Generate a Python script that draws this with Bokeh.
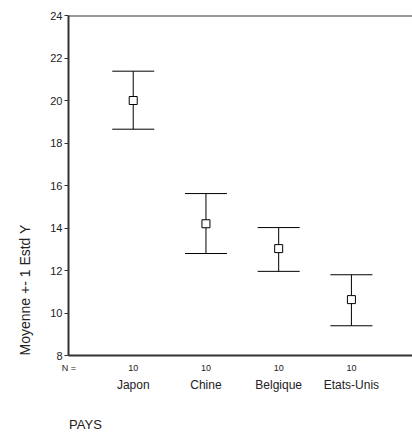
import math
from bokeh.plotting import figure
from bokeh.models import (Range1d, FixedTicker, Span, Whisker, ColumnDataSource, TeeHead,
                          LinearAxis, Title)
from bokeh.embed import file_html
from bokeh.resources import INLINE

categories = ["Japon", "Chine", "Belgique", "Etats-Unis"]
means = [20.0, 14.2, 13.03, 10.63]
upper = [21.38, 15.62, 14.02, 11.8]
lower = [18.65, 12.8, 11.96, 9.4]
counts = [10, 10, 10, 10]
y_ticks = [8, 10, 12, 14, 16, 18, 20, 22, 24]

xs = [i + 1 for i in range(len(categories))]
src = ColumnDataSource(dict(x=xs, m=means, up=upper, lo=lower))

FONT = "Liberation Sans"
DARK = "#333333"
TXT = "#222222"
X0, X1 = 0.11, 4.84
FRAME_W = 412 - 67

p = figure(width=412, height=434, output_backend="svg", toolbar_location=None,
           x_range=Range1d(X0, X1), y_range=Range1d(8, 24),
           x_axis_location=None,
           min_border_left=67, min_border_right=0, min_border_top=15, min_border_bottom=0)
p.grid.visible = False
p.outline_line_color = None
p.background_fill_color = "white"
p.border_fill_color = "white"

ya = p.yaxis[0]
ya.ticker = FixedTicker(ticks=y_ticks)
ya.axis_line_width = 2
ya.axis_line_color = DARK
ya.major_tick_line_color = DARK
ya.major_tick_out = 4
ya.major_tick_in = 0
ya.minor_tick_line_color = None
ya.major_label_text_font = FONT
ya.major_label_text_font_size = "11px"
ya.major_label_text_color = TXT
ya.major_label_standoff = 2

# N row axis (also draws the bottom axis line)
n_ticks = [X0 + 0.005] + xs
n_over = {n_ticks[0]: "N ="}
for xi, n in zip(xs, counts):
    n_over[xi] = str(n)
ax_n = LinearAxis(ticker=FixedTicker(ticks=n_ticks), major_label_overrides=n_over,
                  axis_line_width=2, axis_line_color=DARK,
                  major_tick_line_color=None, minor_tick_line_color=None,
                  major_tick_out=0, major_tick_in=0,
                  major_label_text_font=FONT, major_label_text_font_size="9px",
                  major_label_text_color=TXT, major_label_standoff=7)
p.add_layout(ax_n, "below")

# category names axis
ax_c = LinearAxis(ticker=FixedTicker(ticks=xs),
                  major_label_overrides={xi: c for xi, c in zip(xs, categories)},
                  axis_line_color=None, major_tick_line_color=None, minor_tick_line_color=None,
                  major_tick_out=0, major_tick_in=0,
                  major_label_text_font=FONT, major_label_text_font_size="12px",
                  major_label_text_color=TXT, major_label_standoff=2)
p.add_layout(ax_c, "below")

# "PAYS" variable name, left-aligned with the frame (label centred 17px right of frame edge)
pays_x = X0 + 17 * (X1 - X0) / FRAME_W
ax_t = LinearAxis(ticker=FixedTicker(ticks=[pays_x]), major_label_overrides={pays_x: "PAYS"},
                  axis_line_color=None, major_tick_line_color=None, minor_tick_line_color=None,
                  major_tick_out=0, major_tick_in=0,
                  major_label_text_font=FONT, major_label_text_font_size="13px",
                  major_label_text_color=TXT, major_label_standoff=22)
p.add_layout(ax_t, "below")

p.add_layout(Title(text="Moyenne +- 1 Estd Y", align="left", text_font=FONT,
                   text_font_size="14px", text_font_style="normal", text_color=TXT,
                   standoff=29), "left")

p.add_layout(Span(location=24, dimension="width", line_color=DARK, line_width=2))

w = Whisker(base="x", upper="up", lower="lo", source=src, dimension="height",
            line_color="black", line_width=1,
            upper_head=TeeHead(size=42, line_color="black", line_width=1),
            lower_head=TeeHead(size=42, line_color="black", line_width=1))
p.add_layout(w)
p.scatter("x", "m", source=src, marker="square", size=8, fill_color="white",
          line_color="black", line_width=1)

open("out.html", "w").write(file_html(p, INLINE))
